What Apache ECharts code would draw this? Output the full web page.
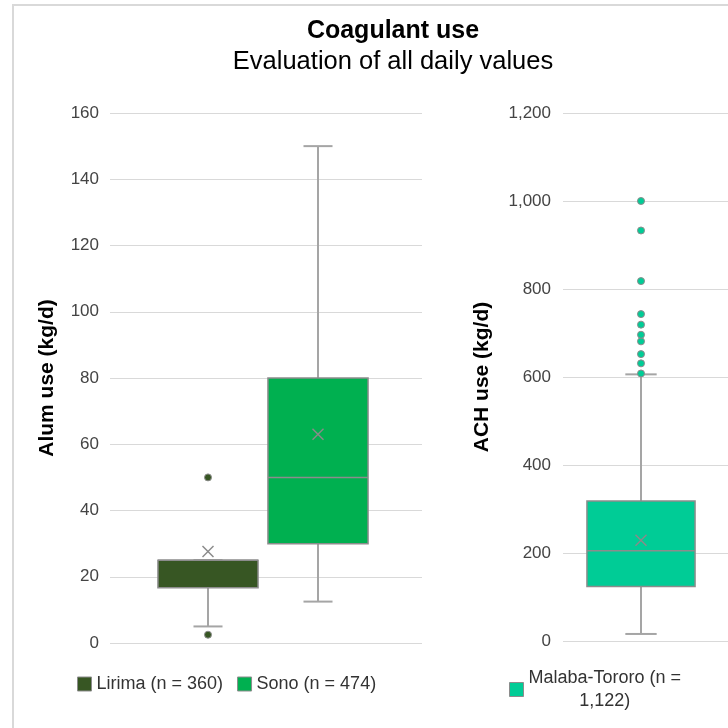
<!DOCTYPE html>
<html>
<head>
<meta charset="utf-8">
<title>Coagulant use</title>
<script src="https://cdn.jsdelivr.net/npm/echarts@6.0.0/dist/echarts.min.js"></script>
<style>
  html, body { margin: 0; padding: 0; background: #ffffff; }
  #chart { width: 728px; height: 728px; }
</style>
</head>
<body>
<div id="chart"></div>
<script>
// Alum plants (left panel)
const alumSites = ['Lirima (n = 360)', 'Sono (n = 474)'];
// Box statistics: [min, Q1, median, Q3, max, mean]
const lirimaStats = [5, 16.7, 25, 25, 25, 27.6];
const sonoStats = [12.5, 30, 50, 80, 150, 63];
const lirimaOutliers = [50, 2.5];
const sonoOutliers = [];

// ACH plant (right panel)
const achSites = ['Malaba-Tororo (n = 1,122)'];
const malabaStats = [16, 124, 205, 318, 606, 229];
const malabaOutliers = [608, 631, 652, 681, 696, 719, 743, 818, 933, 1000];

// Axis ranges
const alumAxis = { min: 0, max: 160, interval: 20 };
const achAxis = { min: 0, max: 1200, interval: 200 };

const FONT = "'Liberation Sans', Arial, Helvetica, sans-serif";
const WHISKER = { stroke: '#a5a5a5', lineWidth: 2 };
const BOX_EDGE = '#8c8c8c';

// Box-and-whisker drawn from the stats through the axis scales
function boxRenderer(fill) {
  return function (params, api) {
    const cat = api.value(0);
    const min = api.value(1), q1 = api.value(2), med = api.value(3);
    const q3 = api.value(4), max = api.value(5), mean = api.value(6);
    const band = api.size([1, 0])[0];
    const w = band * 0.91;
    const cap = w * 0.29;
    const x = api.coord([cat, med])[0];
    const y = v => api.coord([cat, v])[1];
    const m = 5.5;
    const ym = y(mean);
    return {
      type: 'group',
      children: [
        { type: 'line', shape: { x1: x, y1: y(max), x2: x, y2: y(q3) }, style: WHISKER },
        { type: 'line', shape: { x1: x, y1: y(q1), x2: x, y2: y(min) }, style: WHISKER },
        { type: 'line', shape: { x1: x - cap / 2, y1: y(max), x2: x + cap / 2, y2: y(max) }, style: WHISKER },
        { type: 'line', shape: { x1: x - cap / 2, y1: y(min), x2: x + cap / 2, y2: y(min) }, style: WHISKER },
        { type: 'rect', shape: { x: x - w / 2, y: y(q3), width: w, height: y(q1) - y(q3) },
          style: { fill: fill, stroke: BOX_EDGE, lineWidth: 1.5 } },
        { type: 'line', shape: { x1: x - w / 2, y1: y(med), x2: x + w / 2, y2: y(med) },
          style: { stroke: BOX_EDGE, lineWidth: 1.5 } },
        { type: 'line', shape: { x1: x - m, y1: ym - m, x2: x + m, y2: ym + m },
          style: { stroke: '#8a8a8a', lineWidth: 1.5 } },
        { type: 'line', shape: { x1: x - m, y1: ym + m, x2: x + m, y2: ym - m },
          style: { stroke: '#8a8a8a', lineWidth: 1.5 } }
      ]
    };
  };
}

function boxSeries(name, site, stats, color, axisIndex) {
  return {
    type: 'custom',
    name: name,
    xAxisIndex: axisIndex,
    yAxisIndex: axisIndex,
    renderItem: boxRenderer(color),
    itemStyle: { color: color },
    encode: { x: 0, y: [1, 2, 3, 4, 5] },
    data: [[site].concat(stats)],
    z: 3
  };
}

function outlierSeries(name, site, values, color, axisIndex) {
  return {
    type: 'scatter',
    name: name,
    xAxisIndex: axisIndex,
    yAxisIndex: axisIndex,
    symbol: 'circle',
    symbolSize: 7,
    itemStyle: { color: color, borderColor: '#8c8c8c', borderWidth: 1, opacity: 1 },
    data: values.map(v => [site, v]),
    z: 4
  };
}

const tickLabel = { color: '#444444', fontSize: 17, fontFamily: FONT };
const axisTitle = { color: '#000000', fontSize: 21, fontWeight: 'bold', fontFamily: FONT };
const gridLine = { show: true, lineStyle: { color: '#d9d9d9', width: 1 } };

const chart = echarts.init(document.getElementById('chart'), null, { renderer: 'canvas' });

chart.setOption({
  animation: false,
  backgroundColor: '#ffffff',
  title: {
    text: 'Coagulant use',
    subtext: 'Evaluation of all daily values',
    left: 388,
    top: 14,
    textAlign: 'center',
    itemGap: 5,
    textStyle: { color: '#000000', fontSize: 25, fontWeight: 'bold', fontFamily: FONT },
    subtextStyle: { color: '#000000', fontSize: 25.5, fontFamily: FONT }
  },
  graphic: [{
    type: 'rect',
    shape: { x: 13, y: 5, width: 800, height: 800 },
    style: { fill: 'none', stroke: '#d9d9d9', lineWidth: 2 },
    silent: true,
    z: -10
  }],
  legend: [{
    data: alumSites,
    left: 77,
    top: 675,
    padding: 0,
    itemWidth: 14,
    itemHeight: 14,
    itemGap: 14,
    icon: 'rect',
    itemStyle: { borderColor: '#8c8c8c', borderWidth: 1 },
    textStyle: { color: '#333333', fontSize: 18, fontFamily: FONT }
  }, {
    data: achSites,
    left: 509,
    top: 669,
    padding: 0,
    itemWidth: 14,
    itemHeight: 14,
    icon: 'rect',
    itemStyle: { borderColor: '#8c8c8c', borderWidth: 1 },
    formatter: function (name) {
      const cut = name.lastIndexOf(' ');
      return '{a|' + name.slice(0, cut) + '}\n{b|' + name.slice(cut + 1) + '}';
    },
    textStyle: {
      color: '#333333', fontSize: 18, fontFamily: FONT,
      rich: {
        a: { fontSize: 18, fontFamily: FONT, color: '#333333', lineHeight: 23, align: 'center' },
        b: { fontSize: 18, fontFamily: FONT, color: '#333333', lineHeight: 23, align: 'center' }
      }
    }
  }],
  grid: [
    // 0: alum gridlines and ticks
    { left: 110, top: 113, width: 312, height: 530, outerBoundsMode: 'none' },
    // 1: alum boxes
    { left: 153, top: 113, width: 220, height: 530, outerBoundsMode: 'none' },
    // 2: ACH gridlines and ticks
    { left: 563, top: 113, width: 165, height: 528, outerBoundsMode: 'none' },
    // 3: ACH box
    { left: 581.6, top: 113, width: 118.8, height: 528, outerBoundsMode: 'none' }
  ],
  xAxis: [
    { gridIndex: 0, type: 'value', show: false, min: 0, max: 1 },
    { gridIndex: 1, type: 'category', data: alumSites, show: false },
    { gridIndex: 2, type: 'value', show: false, min: 0, max: 1 },
    { gridIndex: 3, type: 'category', data: achSites, show: false }
  ],
  yAxis: [
    {
      gridIndex: 0, type: 'value', min: alumAxis.min, max: alumAxis.max, interval: alumAxis.interval,
      name: 'Alum use (kg/d)', nameLocation: 'middle', nameRotate: 90, nameGap: 52,
      nameTextStyle: axisTitle,
      axisLine: { show: false }, axisTick: { show: false },
      axisLabel: Object.assign({ margin: 11 }, tickLabel),
      splitLine: gridLine
    },
    { gridIndex: 1, type: 'value', min: alumAxis.min, max: alumAxis.max, show: false, splitLine: { show: false } },
    {
      gridIndex: 2, type: 'value', min: achAxis.min, max: achAxis.max, interval: achAxis.interval,
      name: 'ACH use (kg/d)', nameLocation: 'middle', nameRotate: 90, nameGap: 70,
      nameTextStyle: axisTitle,
      axisLine: { show: false }, axisTick: { show: false },
      axisLabel: Object.assign({
        margin: 12,
        formatter: v => v.toLocaleString('en-US')
      }, tickLabel),
      splitLine: gridLine
    },
    { gridIndex: 3, type: 'value', min: achAxis.min, max: achAxis.max, show: false, splitLine: { show: false } }
  ],
  series: [
    boxSeries(alumSites[0], alumSites[0], lirimaStats, '#375623', 1),
    boxSeries(alumSites[1], alumSites[1], sonoStats, '#00b050', 1),
    boxSeries(achSites[0], achSites[0], malabaStats, '#00cc96', 3),
    outlierSeries(alumSites[0], alumSites[0], lirimaOutliers, '#375623', 1),
    outlierSeries(alumSites[1], alumSites[1], sonoOutliers, '#00b050', 1),
    outlierSeries(achSites[0], achSites[0], malabaOutliers, '#00cc96', 3)
  ]
});
</script>
</body>
</html>
